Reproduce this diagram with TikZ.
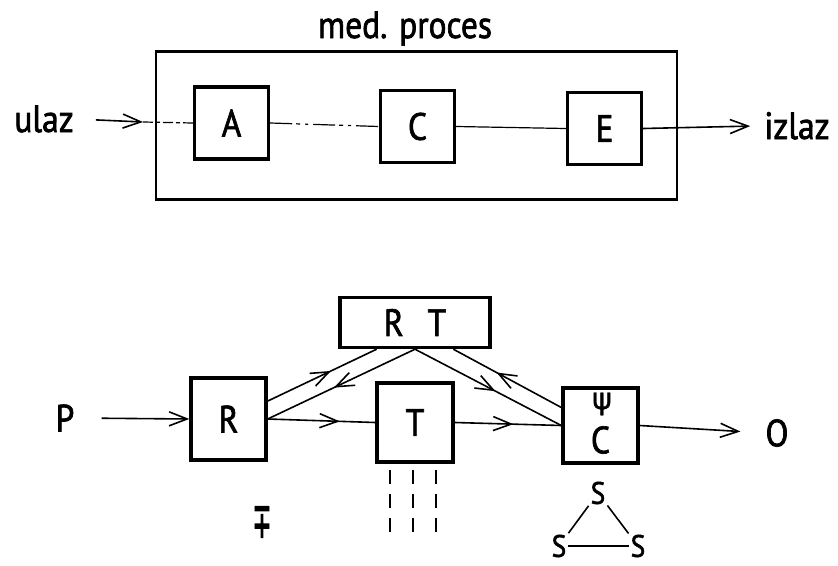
\documentclass[tikz,border=0pt]{standalone}
\usepackage{fontspec}
\setmainfont{PT Sans}[FakeStretch=0.88,FakeBold=1.8]
\newfontfamily\dvs{DejaVu Sans}[FakeBold=1]
\newfontfamily\dvsheavy{DejaVu Sans}[FakeBold=3]
\usetikzlibrary{arrows.meta,decorations.markings,calc}
\begin{document}
\begin{tikzpicture}[x=1pt,y=-1pt,
  txt/.style={inner sep=0pt,font=\fontsize{38}{38}\selectfont},
  box/.style={draw,line width=3.4pt,minimum width=74pt,minimum height=72pt,inner sep=0pt,font=\fontsize{38}{38}\selectfont},
  outerbox/.style={draw,line width=2.4pt,minimum width=521pt,minimum height=148pt,inner sep=0pt},
  con/.style={line width=1.6pt},
  tip/.tip={Straight Barb[length=18pt,width=14pt,line width=1.6pt]},
  arr/.style={con,-tip},
  midarr/.style={con,postaction={decorate},decoration={markings,
      mark=at position #1 with {\arrow{tip}}}},
  dashline/.style={line width=2pt,dash pattern=on 14pt off 10pt,dash phase=-6pt},
  stxt/.style={inner sep=2pt,font=\fontsize{31}{31}\selectfont}
]
\useasboundingbox (0,0) rectangle (838,565);

% ---------- top diagram ----------
\node[txt,anchor=base] (med) at (405,38) {med. proces};
\node[outerbox] (proc) at (416.5,125.5) {};
\node[box] (A) at (231.5,123) {A};
\node[box] (C) at (417.5,126.5) {C};
\node[box] (E) at (604.5,128.5) {E};
\node[txt,anchor=base] (ulaz) at (44,132) {ulaz};
\node[txt,anchor=base] (izlaz) at (797,139) {izlaz};
\coordinate (inA) at (143,122);
\draw[arr,shorten <=22pt] (ulaz.east) -- (inA);
\draw[con,line width=1.2pt,dash pattern=on 10pt off 3pt on 4pt off 3pt] (inA) -- (A.west);
\draw[con,line width=1.2pt,dash pattern=on 22pt off 4pt on 4pt off 5pt on 3pt off 5pt] (A.east) -- (C.west);
\draw[con,line width=1.2pt] (C.east) -- (E.west);
\draw[arr,shorten >=14pt] (E.east) -- (izlaz.west);

% ---------- bottom diagram ----------
\node[box,minimum width=150pt,minimum height=50pt] (RT) at (415,322.5) {R\hspace{24pt}T};
\node[box,minimum width=75pt,minimum height=82pt] (R) at (228.5,419) {R};
\node[box,minimum width=76pt,minimum height=79pt] (T) at (415,422.5) {T};
\node[box,minimum width=75pt,minimum height=75pt] (Cb) at (600.5,425.5) {};
\node[inner sep=0pt,font=\dvs\fontsize{30}{30}\selectfont] (psi) at (602,404) {ψ};
\node[txt] (cC) at (600.5,440) {C};
\node[txt] (P) at (65,418) {P};
\node[txt] (O) at (777,433) {O};

\draw[arr,shorten <=27pt] (P.east) -- (R.west);
\draw[midarr=0.67] (R.east) -- (T.west);
\draw[midarr=0.55] (T.east) -- (Cb.west);
\draw[arr,shorten >=25pt] (Cb.east) -- (O.west);

\coordinate (rtA) at ($(RT.south west)!0.25!(RT.south east)$);
\coordinate (rtB) at ($(RT.south west)!0.75!(RT.south east)$);
\coordinate (rUp) at ($(R.north east)!0.29!(R.south east)$);
\coordinate (cUp) at ($(Cb.north west)!0.27!(Cb.south west)$);
\draw[midarr=0.58] (rUp) -- (rtA);
\draw[midarr=0.55] (RT.south) -- (R.east);
\draw[midarr=0.55] (RT.south) -- (Cb.west);
\draw[midarr=0.6] (cUp) -- (rtB);

\foreach \dx in {-25,-2,21}
  \draw[dashline] ($(T.south)+(\dx,0)$) -- ++(0,73);

\node[inner sep=0pt,xscale=0.6,yscale=1.3,font=\dvsheavy\fontsize{38}{38}\selectfont] (pm) at (262,522) {∓};

\node[stxt] (s1) at (598,493) {S};
\node[stxt] (s2) at (559,546) {S};
\node[stxt] (s3) at (638,546) {S};
\draw[con] (s1) -- (s2);
\draw[con] (s1) -- (s3);
\draw[con] (s2) -- (s3);
\end{tikzpicture}
\end{document}
